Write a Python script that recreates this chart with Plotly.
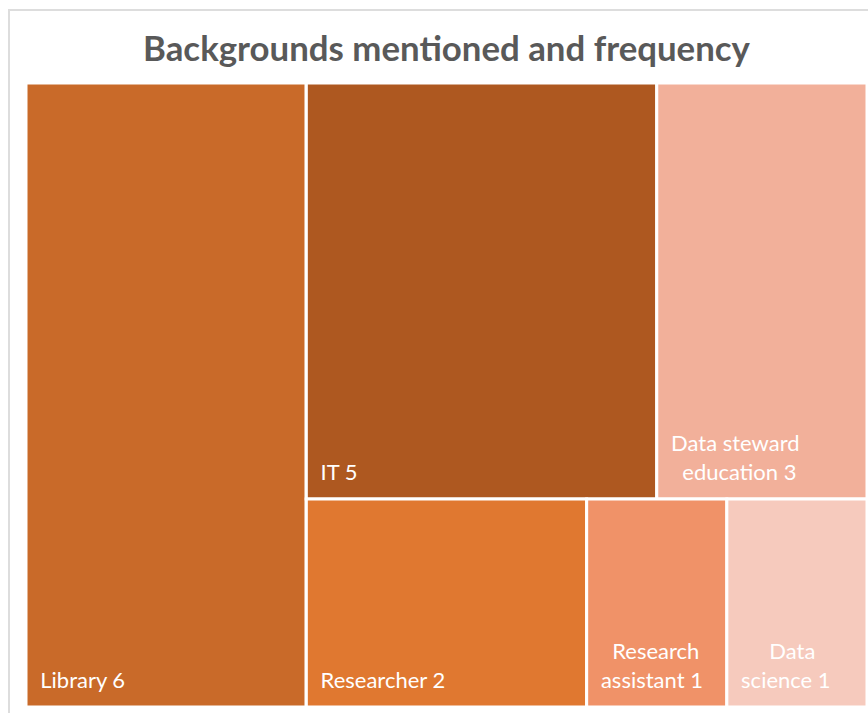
import plotly.graph_objects as go

# Data
categories = ["Library", "IT", "Data steward education", "Researcher", "Research assistant", "Data science"]
name_lines = [["Library"], ["IT"], ["Data steward", "education"], ["Researcher"],
              ["Research", "assistant"], ["Data", "science"]]
frequency = [6, 5, 3, 2, 1, 1]
tile_colors = ["#C96A29", "#AE5820", "#F2B09A", "#E07830", "#F09268", "#F6CABD"]

# Hidden grouping used to reproduce the tiling of the original chart
group_of = ["", "top", "top", "bottom", "bottom", "bottom"]
groups = ["rest", "top", "bottom"]
group_parent = ["", "rest", "rest"]

# Styling of the labels (indent in non-breaking spaces per line, to mimic centred lines)
LABEL_PX = 22
BASE_PX = 11
line_indent = [[2], [2], [2, 4], [2], [4, 2], [7, 2]]
NBSP = "\u00a0"


def make_label(i):
    lines = list(name_lines[i])
    lines[-1] = f"{lines[-1]} {frequency[i]}"
    parts = [f"<span style='font-size:{LABEL_PX}px'>{NBSP * ind}{ln}</span>"
             for ln, ind in zip(lines, line_indent[i])]
    return "<br><br>".join(parts) + "<br>" + NBSP


ids, labels, parents, values, colors, texts = [], [], [], [], [], []
ids.append(categories[0]); labels.append(categories[0]); parents.append("")
values.append(frequency[0]); colors.append(tile_colors[0]); texts.append(make_label(0))
for g, gp in zip(groups, group_parent):
    if g == "rest":
        tot = sum(frequency[1:])
    else:
        tot = sum(frequency[i] for i in range(len(categories)) if group_of[i] == g)
    ids.append(g); labels.append(""); parents.append(gp); values.append(tot)
    colors.append("#FFFFFF"); texts.append("")
for i in range(1, len(categories)):
    ids.append(categories[i]); labels.append(categories[i]); parents.append(group_of[i])
    values.append(frequency[i]); colors.append(tile_colors[i]); texts.append(make_label(i))

fig = go.Figure(go.Treemap(
    ids=ids, labels=labels, parents=parents, values=values,
    branchvalues="total", sort=False,
    text=texts, texttemplate="%{text}", textposition="bottom left",
    textfont=dict(family="Lato", size=BASE_PX, color="#FFFFFF"),
    marker=dict(colors=colors, line=dict(color="#FFFFFF", width=3),
                pad=dict(t=0, l=0, r=0, b=0)),
    tiling=dict(packing="slice-dice", pad=0),
    pathbar=dict(visible=False),
    root=dict(color="#FFFFFF"),
    hovertemplate="%{label}: %{value}<extra></extra>",
))

fig.update_layout(
    width=868, height=713,
    margin=dict(l=26, r=1, t=83, b=6),
    paper_bgcolor="#FFFFFF",
    title=dict(text="Backgrounds mentioned and frequency",
               font=dict(family="Lato", size=34.8, color="#595959", weight="bold"),
               x=0.5, xref="paper", xanchor="center", y=0.931, yanchor="middle", yref="container"),
    shapes=[dict(type="rect", xref="paper", yref="paper",
                 x0=-0.0202, x1=1.1, y0=-0.1, y1=1.117,
                 line=dict(color="#DDDDDD", width=2), fillcolor="rgba(0,0,0,0)", layer="below")],
)

fig.write_html("out.html", config={"displayModeBar": False},
               post_script="document.body.style.margin='0';")
